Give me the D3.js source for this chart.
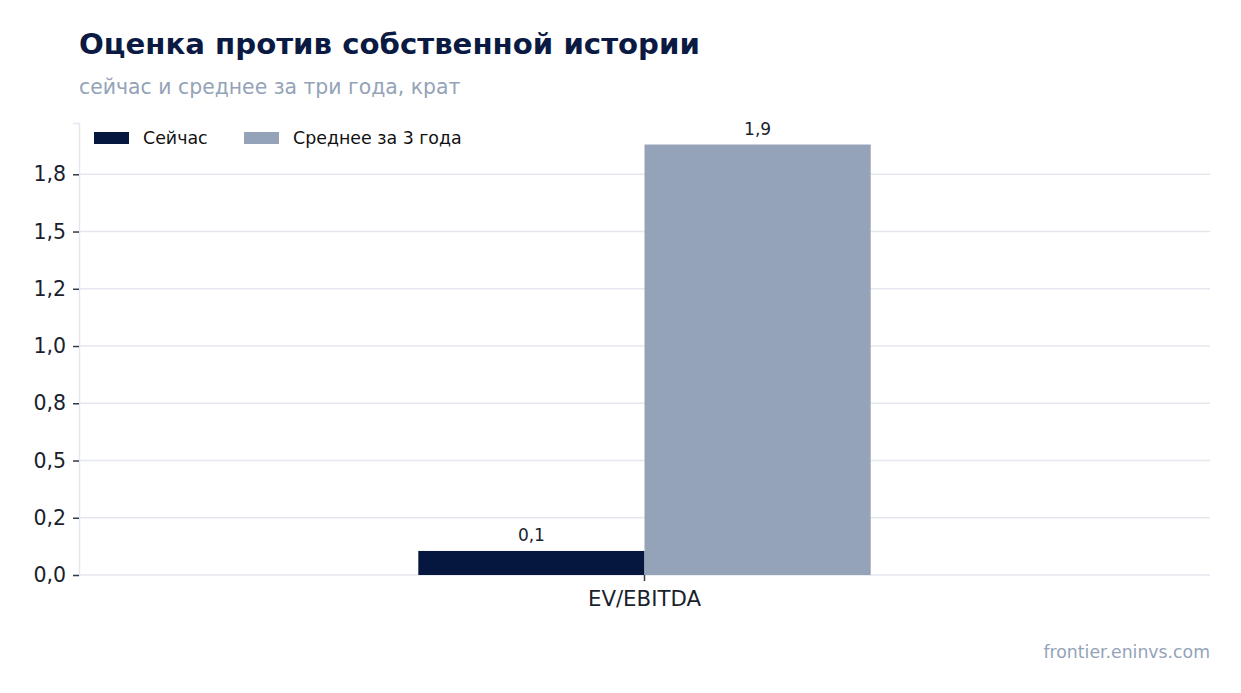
<!DOCTYPE html>
<html>
<head>
<meta charset="utf-8">
<script src="https://cdn.jsdelivr.net/npm/d3@7"></script>
<style>
  body { margin: 0; background: #fff; }
  text { font-family: "DejaVu Sans", sans-serif; }
</style>
</head>
<body>
<div id="chart"></div>
<script>
// data
var categories = ["EV/EBITDA"];
var seriesNames = ["Сейчас", "Среднее за 3 года"];
var nowValues = [0.105];
var avgValues = [1.88];
var valueLabels = [["0,1"], ["1,9"]];
var tickValues = [0, 0.25, 0.5, 0.75, 1.0, 1.25, 1.5, 1.75];
var tickLabels = ["0,0", "0,2", "0,5", "0,8", "1,0", "1,2", "1,5", "1,8"];
var colors = ["#06173f", "#94a3b8"];

var width = 1241;
var height = 693;
var plotLeft = 79, plotRight = 1210, plotTop = 123, plotBottom = 575;

var svg = d3.select("#chart")
  .append("svg")
  .attr("width", width)
  .attr("height", height);

// title and subtitle
svg.append("text")
  .attr("x", 79).attr("y", 54)
  .attr("font-size", 29.2).attr("font-weight", "bold")
  .attr("fill", "#0b1a42")
  .text("Оценка против собственной истории");

svg.append("text")
  .attr("x", 79).attr("y", 94)
  .attr("font-size", 20.4)
  .attr("fill", "#94a3b8")
  .text("сейчас и среднее за три года, крат");

var yMax = d3.max(avgValues.concat(nowValues)) * 1.05;
var y = d3.scaleLinear().domain([0, yMax]).range([plotBottom, plotTop]);
var x = d3.scaleLinear().domain([-1, 1]).range([plotLeft, plotRight]);

// gridlines
svg.append("g")
  .selectAll("line")
  .data(tickValues)
  .enter()
  .append("line")
  .attr("x1", plotLeft).attr("x2", plotRight)
  .attr("y1", d => y(d)).attr("y2", d => y(d))
  .attr("stroke", "#e4e7ee").attr("stroke-width", 1.5);

// y axis
var leftAxis = d3.axisLeft(y)
  .tickValues(tickValues)
  .tickFormat((d, i) => tickLabels[i])
  .tickSize(6)
  .tickPadding(7);

var yAxis = svg.append("g")
  .attr("transform", `translate(${plotLeft}, 0)`)
  .call(leftAxis);
yAxis.select(".domain").attr("stroke", "#e4e7ee").attr("stroke-width", 1.5);
yAxis.selectAll(".tick line").attr("stroke", "#333a48").attr("stroke-width", 1.5);
yAxis.selectAll(".tick text")
  .attr("font-size", 20.5).attr("fill", "#1a1f2e")
  .attr("font-family", "DejaVu Sans, sans-serif");

// bars
var series = [nowValues, avgValues];
var barW = 0.4;
series.forEach(function(vals, s) {
  var off = s === 0 ? -barW : 0;
  svg.append("g")
    .selectAll("rect")
    .data(vals)
    .enter()
    .append("rect")
    .attr("x", (d, i) => x(i + off))
    .attr("width", x(barW) - x(0))
    .attr("y", d => y(d))
    .attr("height", d => y(0) - y(d))
    .attr("fill", colors[s]);

  svg.append("g")
    .selectAll("text")
    .data(vals)
    .enter()
    .append("text")
    .attr("x", (d, i) => x(i + off + barW / 2))
    .attr("y", d => y(d) - 10)
    .attr("text-anchor", "middle")
    .attr("font-size", 17)
    .attr("fill", "#1a1f2e")
    .text((d, i) => valueLabels[s][i]);
});

// x axis tick + label
var xg = svg.append("g");
categories.forEach(function(c, i) {
  xg.append("line")
    .attr("x1", x(i)).attr("x2", x(i))
    .attr("y1", plotBottom).attr("y2", plotBottom + 6)
    .attr("stroke", "#333a48").attr("stroke-width", 1.5);
  xg.append("text")
    .attr("x", x(i)).attr("y", 606)
    .attr("text-anchor", "middle")
    .attr("font-size", 21.3)
    .attr("fill", "#1a1f2e")
    .text(c);
});

// legend
var legend = svg.append("g");
var legendX = [94, 244];
seriesNames.forEach(function(n, i) {
  legend.append("rect")
    .attr("x", legendX[i]).attr("y", 132)
    .attr("width", 35).attr("height", 12)
    .attr("fill", colors[i]);
  legend.append("text")
    .attr("x", legendX[i] + 49).attr("y", 144)
    .attr("font-size", 17.4)
    .attr("fill", "#111")
    .text(n);
});

// footer
svg.append("text")
  .attr("x", 1210).attr("y", 658)
  .attr("text-anchor", "end")
  .attr("font-size", 17.3)
  .attr("fill", "#94a3b8")
  .text("frontier.eninvs.com");
</script>
</body>
</html>
